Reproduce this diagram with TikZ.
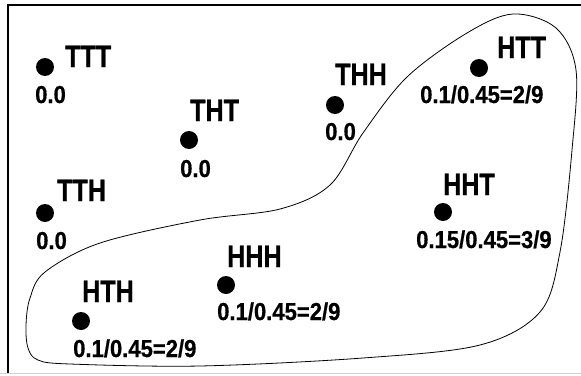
\documentclass[tikz,border=0pt]{standalone}
\usepackage{fontspec}
\newfontfamily\labfont{Liberation Sans Bold}[FakeStretch=0.81,FakeBold=0.8]
\newfontfamily\numfont{Liberation Sans Bold}[FakeStretch=0.9,FakeBold=0.6]
\begin{document}
\begin{tikzpicture}[x=1pt,y=-1pt,
  outcome/.style={circle,fill=black,inner sep=0pt,minimum size=18pt},
  oname/.style={anchor=base west,inner sep=0pt,font=\labfont\fontsize{31}{31}\selectfont},
  oprob/.style={anchor=base west,inner sep=0pt,font=\numfont\fontsize{24.5}{24.5}\selectfont}]
\useasboundingbox (0,0) rectangle (581,375);
% frame
\draw[line width=2pt] (8,373) -- (8,4.5) -- (590,4.5);
\draw[line width=1pt,black!18] (0,373.5) -- (581,373.5);

% outcomes
\node[outcome] (ttt) at (45,67) {};
\node[outcome] (tht) at (189,140) {};
\node[outcome] (thh) at (335,105) {};
\node[outcome] (htt) at (479,68) {};
\node[outcome] (tth) at (45,213) {};
\node[outcome] (hhh) at (226,285) {};
\node[outcome] (hth) at (81,321) {};
\node[outcome] (hht) at (443,212) {};

% names
\node[oname] (tttn) at (65,67) {TTT};
\node[oname] (thtn) at (190,121) {THT};
\node[oname] (thhn) at (335,85) {THH};
\node[oname] (httn) at (497,58) {HTT};
\node[oname] (tthn) at (57,201) {TTH};
\node[oname] (hhhn) at (227,267) {HHH};
\node[oname] (hthn) at (82,302) {HTH};
\node[oname] (hhtn) at (443,195) {HHT};

% probabilities
\node[oprob] (tttp) at (35,103) {0.0};
\node[oprob] (thtp) at (180,177) {0.0};
\node[oprob] (thhp) at (325,140) {0.0};
\node[oprob] (http) at (420,103) {0.1/0.45=2/9};
\node[oprob] (tthp) at (36,249) {0.0};
\node[oprob] (hhhp) at (217,320) {0.1/0.45=2/9};
\node[oprob] (hthp) at (73,357) {0.1/0.45=2/9};
\node[oprob] (hhtp) at (416,248) {0.15/0.45=3/9};

% event region
\draw[line width=0.8pt] plot[smooth cycle,tension=0.55] coordinates {
  (26,325) (30,298) (45,272) (100,243) (200,220) (280,209) (330,185)
  (363,133) (407,77) (467,33) (513,14) (556,28) (576,70) (572,150)
  (560,252) (540,312) (480,345) (363,358) (200,366) (70,364) (38,360)
  (28,348)};
\end{tikzpicture}
\end{document}
